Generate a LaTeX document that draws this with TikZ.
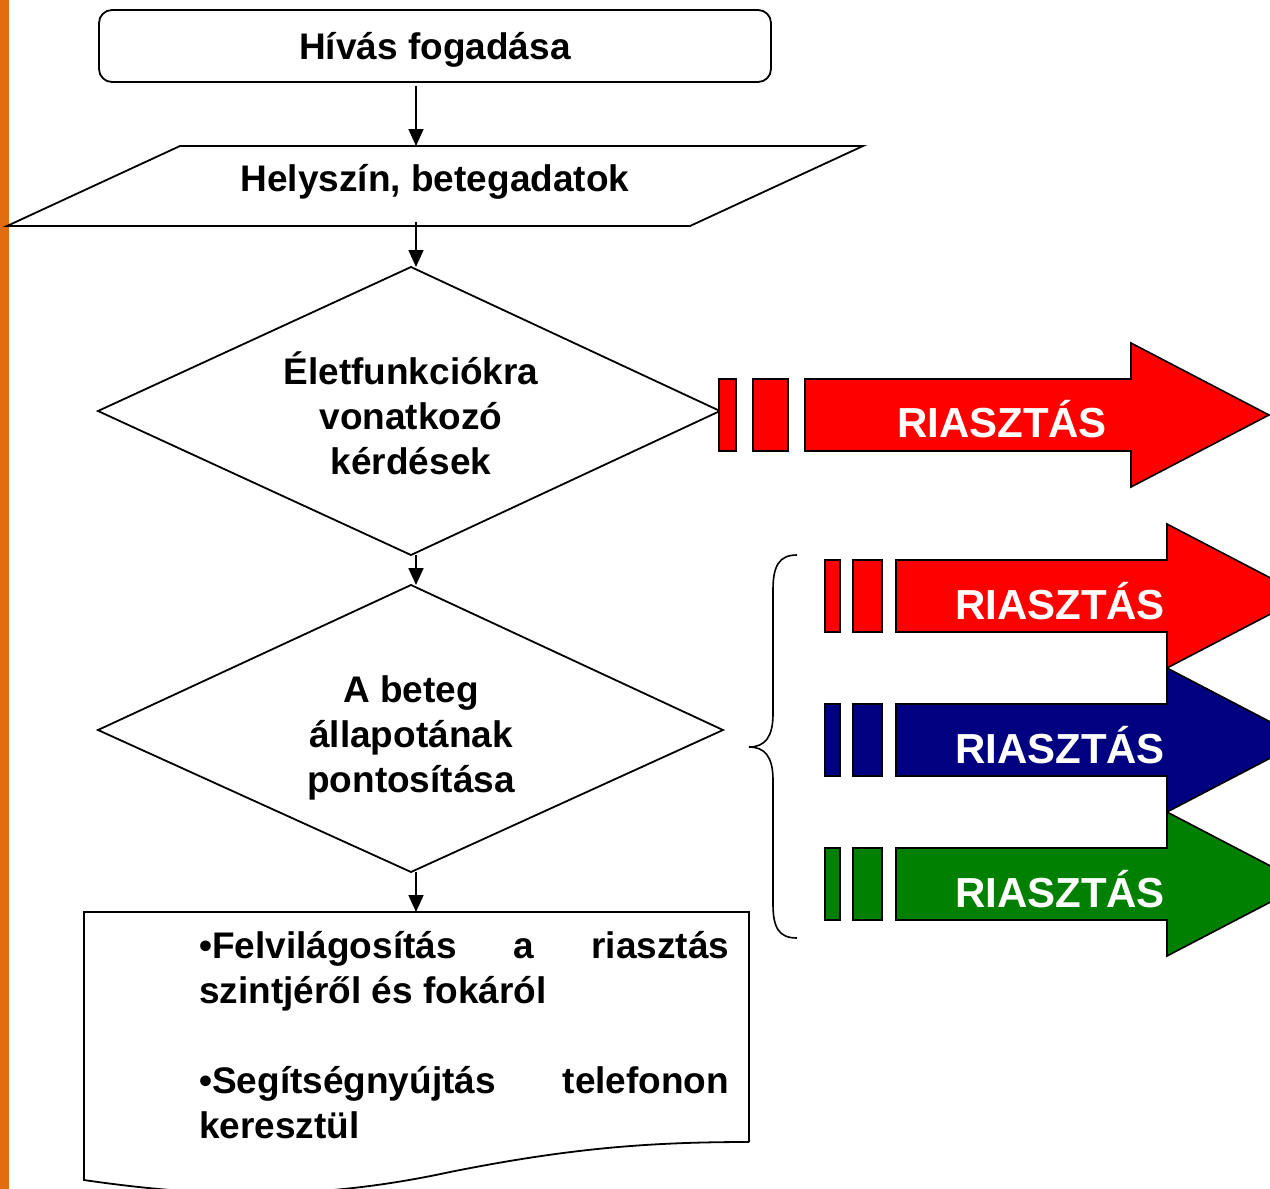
\documentclass[tikz,border=0pt]{standalone}
\usepackage{fontspec}
\setmainfont{Liberation Sans}
\usetikzlibrary{arrows.meta}
\definecolor{barorange}{RGB}{225,108,16}
\definecolor{alarmred}{RGB}{255,0,0}
\definecolor{alarmblue}{RGB}{0,0,128}
\definecolor{alarmgreen}{RGB}{0,128,0}
\begin{document}
\begin{tikzpicture}[x=1pt,y=-1pt,
  outline/.style={draw=black,line width=1.8pt,line join=miter},
  flowarrow/.style={draw=black,line width=1.8pt,-{Triangle[length=17pt,width=15pt]}},
  maintext/.style={font=\fontsize{37}{45}\selectfont\bfseries,align=center,inner sep=0pt},
  doctext/.style={font=\fontsize{37}{45}\selectfont\bfseries,inner sep=0pt,anchor=base west},
  alarmtext/.style={font=\fontsize{42}{48}\selectfont\bfseries,text=white,inner sep=0pt},
  alarmbox/.style={draw=black,line width=1.6pt}]
\useasboundingbox (0,0) rectangle (1270,1189);
\clip (0,0) rectangle (1270,1189);
\fill[white] (0,0) rectangle (1270,1189);
% orange bar
\fill[barorange] (0,0) rectangle (9,1189);

% start box
\draw[outline,rounded corners=13pt] (99,10) rectangle (771,82);
\node[maintext] (start) at (435,50) {Hívás fogadása};
\coordinate (startbot) at (416,86);

% parallelogram
\draw[outline] (180,146) -- (863,146) -- (690,226) -- (7,226) -- cycle;
\node[maintext] (data) at (435,182) {Helyszín, betegadatok};
\coordinate (datatop) at (416,146);
\coordinate (databot) at (416,222);

% diamond 1
\draw[outline] (411,267) -- (720,411) -- (411,555) -- (98,411) -- cycle;
\node[maintext] (vital) at (411,413) {Életfunkciókra\\vonatkozó\\kérdések};
\coordinate (d1top) at (416,267);
\coordinate (d1bot) at (416,555);

% diamond 2
\draw[outline] (411,585) -- (723,730) -- (411,872) -- (98,730) -- cycle;
\node[maintext] (state) at (411,738) {A beteg\\állapotának\\pontosítása};
\coordinate (d2top) at (416,585);
\coordinate (d2bot) at (416,872);

% document
\draw[outline] (749,1142) -- (749,912) -- (84,912) -- (84,1180)
  .. controls (220,1200) and (330,1198) .. (450,1172)
  .. controls (570,1148) and (650,1142) .. (749,1142);
\coordinate (doctop) at (416,912);
\node[doctext] (l1) at (199,958) {\makebox[530pt][s]{•Felvilágosítás a riasztás}};
\node[doctext] (l2) at (199,1003) {szintjéről és fokáról};
\node[doctext] (l3) at (199,1093) {\makebox[530pt][s]{•Segítségnyújtás telefonon}};
\node[doctext] (l4) at (199,1138) {keresztül};

% connectors
\draw[flowarrow] (startbot) -- (datatop);
\draw[flowarrow] (databot) -- (d1top);
\draw[flowarrow] (d1bot) -- (d2top);
\draw[flowarrow] (d2bot) -- (doctop);

% first alarm arrow (red)
\draw[alarmbox,fill=alarmred] (719,379) rectangle (736,451);
\draw[alarmbox,fill=alarmred] (753,379) rectangle (788,451);
\draw[alarmbox,fill=alarmred] (805,379) -- (1131,379) -- (1131,343) -- (1269,415)
  -- (1131,487) -- (1131,451) -- (805,451) -- cycle;
\node[alarmtext] (alarm0) at (1002,419) {RIASZTÁS};

% brace
\draw[black,line width=1.6pt] (797,555) .. controls (779,555) and (773,566) .. (773,590)
  -- (773,714) .. controls (773,737) and (765,747) .. (749,747)
  .. controls (765,747) and (773,757) .. (773,780)
  -- (773,904) .. controls (773,928) and (779,938) .. (797,938);

% red
\draw[alarmbox,fill=alarmred] (825,560) rectangle (840,632);
\draw[alarmbox,fill=alarmred] (853,560) rectangle (882,632);
\draw[alarmbox,fill=alarmred] (896,560) -- (1167,560) -- (1167,524) -- (1305,596)
  -- (1167,668) -- (1167,632) -- (896,632) -- cycle;
\node[alarmtext] (alarm1) at (1060,601) {RIASZTÁS};
% blue
\draw[alarmbox,fill=alarmblue] (825,704) rectangle (840,776);
\draw[alarmbox,fill=alarmblue] (853,704) rectangle (882,776);
\draw[alarmbox,fill=alarmblue] (896,704) -- (1167,704) -- (1167,668) -- (1305,740)
  -- (1167,812) -- (1167,776) -- (896,776) -- cycle;
\node[alarmtext] (alarm2) at (1060,745) {RIASZTÁS};
% green
\draw[alarmbox,fill=alarmgreen] (825,848) rectangle (840,920);
\draw[alarmbox,fill=alarmgreen] (853,848) rectangle (882,920);
\draw[alarmbox,fill=alarmgreen] (896,848) -- (1167,848) -- (1167,812) -- (1305,884)
  -- (1167,956) -- (1167,920) -- (896,920) -- cycle;
\node[alarmtext] (alarm3) at (1060,889) {RIASZTÁS};
\end{tikzpicture}
\end{document}
